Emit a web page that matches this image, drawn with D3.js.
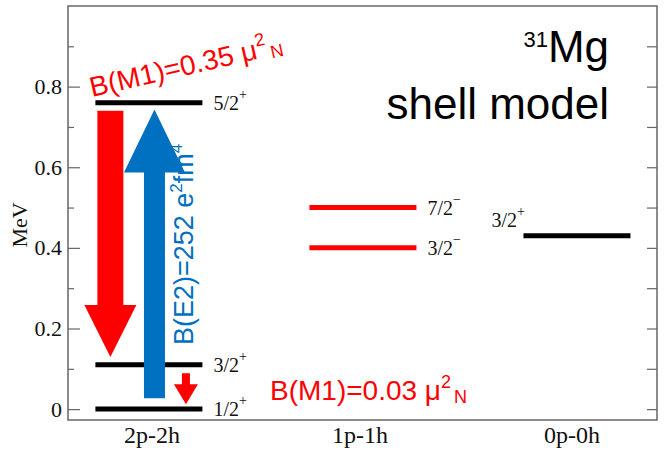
<!DOCTYPE html>
<html><head><meta charset="utf-8">
<script src="https://cdn.jsdelivr.net/npm/d3@7"></script>
<style>body{margin:0;background:#fff}svg{display:block}</style>
</head><body>
<svg id="c" width="664" height="455"></svg>
<script>
// ---- data ----
const categories = ["2p-2h", "1p-1h", "0p-0h"];
const levelCat = [0, 0, 0, 1, 1, 2];
const levelEnergy = [0.76, 0.11, 0.0, 0.50, 0.40, 0.43];
const levelSpin = ["5/2", "3/2", "1/2", "7/2", "3/2", "3/2"];
const levelParity = ["+", "+", "+", "\u2212", "\u2212", "+"];
const yTicks = [0, 0.1, 0.2, 0.3, 0.4, 0.5, 0.6, 0.7, 0.8, 0.9];
const yTickLabels = ["0", "", "0.2", "", "0.4", "", "0.6", "", "0.8", ""];
// transition arrows (x in category units, energies in MeV)
const arrowX = [-0.18, 0.026, 0.173];
const arrowFrom = [0.74, 0.027, 0.089];
const arrowTo = [0.129, 0.743, 0.012];

// ---- layout ----
const W = 664, H = 455;
const m = {l: 68, r: 7, t: 6, b: 35};
const svg = d3.select("#c");
const x = d3.scaleLinear().domain([-0.378, 2.374]).range([m.l, W - m.r]);
const y = d3.scaleLinear().domain([-0.027, 1.0]).range([H - m.b, m.t]);
const RED = "#ff0000", BLUE = "#0070c0";
const catColor = ["#000", RED, "#000"];
const catLabelDx = [3, -3, -5];
const serif = "'Liberation Serif','Times New Roman',serif";
const sans = "'Liberation Sans',Arial,sans-serif";

// frame
svg.append("rect").attr("x", m.l).attr("y", m.t)
  .attr("width", W - m.r - m.l).attr("height", H - m.b - m.t)
  .attr("fill", "none").attr("stroke", "#666").attr("stroke-width", 1.5);

// left axis
const yAxisL = d3.axisLeft(y).tickValues(yTicks)
  .tickFormat((d, i) => yTickLabels[i]).tickSize(0).tickPadding(6);
const gl = svg.append("g").attr("transform", `translate(${m.l},0)`).call(yAxisL);
gl.select(".domain").remove();
gl.selectAll(".tick text").attr("font-family", serif).attr("font-size", 22).attr("fill", "#111");
gl.selectAll(".tick").append("line")
  .attr("x1", 0).attr("x2", (d, i) => yTickLabels[i] ? 12 : 6)
  .attr("stroke", "#666").attr("stroke-width", 1.2);
// right axis ticks
const gr = svg.append("g").attr("transform", `translate(${W - m.r},0)`)
  .call(d3.axisRight(y).tickValues(yTicks).tickFormat("").tickSize(0));
gr.select(".domain").remove();
gr.selectAll(".tick").append("line").attr("x1", 0).attr("x2", -10)
  .attr("stroke", "#666").attr("stroke-width", 1.2);

// y label
svg.append("text").attr("transform", `translate(27,225) rotate(-90)`)
  .attr("text-anchor", "middle").attr("font-family", serif).attr("font-size", 22)
  .attr("fill", "#111").text("MeV");

// category labels
svg.selectAll("text.cat").data(categories).join("text").attr("class", "cat")
  .attr("x", (d, i) => x(i) + catLabelDx[i]).attr("y", 443).attr("text-anchor", "middle")
  .attr("font-family", serif).attr("font-size", 24).attr("fill", "#111").text(d => d);

// levels
const levels = levelEnergy.map((e, i) => ({e, c: levelCat[i], s: levelSpin[i], p: levelParity[i]}));
svg.selectAll("line.lvl").data(levels).join("line").attr("class", "lvl")
  .attr("x1", d => x(d.c - 0.25)).attr("x2", d => x(d.c + 0.25))
  .attr("y1", d => y(d.e)).attr("y2", d => y(d.e))
  .attr("stroke", d => catColor[d.c]).attr("stroke-width", 5);

const lt = svg.selectAll("text.lvl").data(levels).join("text").attr("class", "lvl")
  .attr("x", d => d.c === 2 ? x(d.c - 0.25) - 32 : x(d.c + 0.25) + 11)
  .attr("y", d => d.c === 2 ? y(d.e) - 9 : y(d.e) + 7)
  .attr("font-family", serif).attr("font-size", 20).attr("fill", "#111");
lt.append("tspan").text(d => d.s);
lt.append("tspan").attr("dy", -11).attr("font-size", 14).text(d => d.p);

// arrows
const shaftHalf = [13, 10.5, 4], headHalf = [26, 30.5, 12], headLen = [52, 63, 20];
const arrowColor = [RED, BLUE, RED];
function arrowPath(i) {
  const cx = x(arrowX[i]), y0 = y(arrowFrom[i]), y1 = y(arrowTo[i]);
  const dir = y1 > y0 ? 1 : -1;
  const hb = y1 - dir * headLen[i];
  const s = shaftHalf[i], h = headHalf[i];
  return `M${cx - s},${y0} L${cx - s},${hb} L${cx - h},${hb} L${cx},${y1} L${cx + h},${hb} L${cx + s},${hb} L${cx + s},${y0} Z`;
}
svg.selectAll("path.arr").data(arrowX).join("path").attr("class", "arr")
  .attr("d", (d, i) => arrowPath(i)).attr("fill", (d, i) => arrowColor[i]);

// annotations
const t1 = svg.append("text").attr("transform", "translate(92,97) rotate(-13)")
  .attr("font-family", sans).attr("font-size", 28).attr("fill", RED);
t1.append("tspan").text("B(M1)=0.35 \u03bc");
t1.append("tspan").attr("dy", -12).attr("font-size", 18).text("2");
t1.append("tspan").attr("dy", 15).attr("dx", 3).attr("font-size", 18).text("N");

const t2 = svg.append("text").attr("x", 270).attr("y", 400)
  .attr("font-family", sans).attr("font-size", 28).attr("fill", RED);
t2.append("tspan").text("B(M1)=0.03 \u03bc");
t2.append("tspan").attr("dy", -12).attr("font-size", 18).text("2");
t2.append("tspan").attr("dy", 15).attr("dx", 3).attr("font-size", 18).text("N");

const t3 = svg.append("text").attr("transform", "translate(193,345) rotate(-90)")
  .attr("font-family", sans).attr("font-size", 27).attr("fill", BLUE);
t3.append("tspan").text("B(E2)=252 e");
t3.append("tspan").attr("dy", -11).attr("font-size", 17).text("2");
t3.append("tspan").attr("dy", 11).text("fm");
t3.append("tspan").attr("dy", -11).attr("font-size", 17).text("4");

// title
const t4 = svg.append("text").attr("x", 609).attr("y", 62).attr("text-anchor", "end")
  .attr("font-family", sans).attr("font-size", 44).attr("fill", "#000");
t4.append("tspan").attr("font-size", 22).attr("dy", -15).text("31");
t4.append("tspan").attr("dy", 15).text("Mg");
svg.append("text").attr("x", 609).attr("y", 119).attr("text-anchor", "end")
  .attr("font-family", sans).attr("font-size", 44).attr("fill", "#000").text("shell model");
</script>
</body></html>
